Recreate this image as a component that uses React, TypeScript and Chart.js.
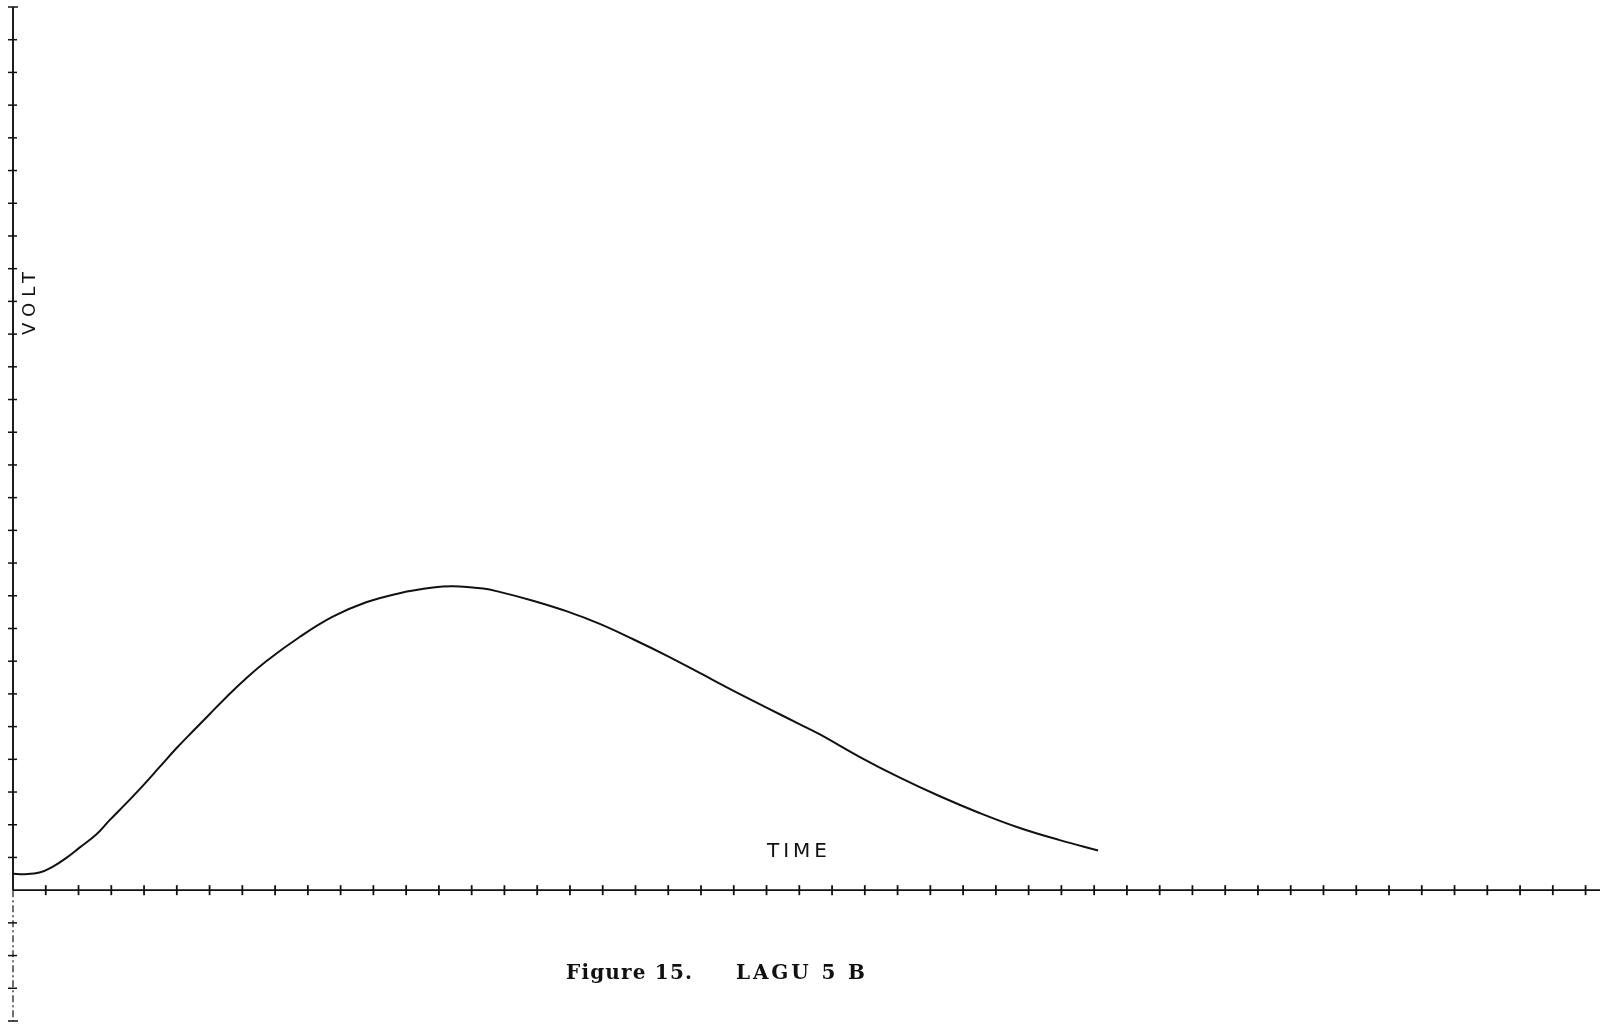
import React, { useEffect, useRef } from "react";
import { Chart, registerables } from "chart.js";

Chart.register(...registerables);

// Curve (x in TIME tick units, y in VOLT tick units)
const timeValues = [
  0, 0.35, 0.81, 1.22, 1.62, 2.03, 2.54, 2.95, 3.46, 3.96, 4.47, 4.98, 5.49, 6.0,
  6.51, 7.02, 7.73, 8.75, 9.76, 10.78, 11.8, 12.82, 13.43, 14.35, 14.85, 15.87,
  16.89, 17.91, 18.93, 19.95, 20.96, 21.98, 23.0, 24.02, 24.63, 25.85, 27.07,
  28.29, 29.5, 30.73, 31.95, 33.12,
];
const voltValues = [
  0.5, 0.49, 0.54, 0.72, 0.98, 1.3, 1.7, 2.14, 2.66, 3.19, 3.76, 4.33, 4.86,
  5.38, 5.9, 6.39, 7.0, 7.74, 8.36, 8.8, 9.08, 9.25, 9.29, 9.22, 9.12, 8.85, 8.53,
  8.14, 7.67, 7.17, 6.64, 6.1, 5.58, 5.07, 4.76, 4.07, 3.44, 2.87, 2.36, 1.9,
  1.53, 1.21,
];

// Axis tick positions (no numeric labels on the original)
const xTickValues = Array.from({ length: 49 }, (_, i) => i); // 0..48
const yTickValues = Array.from({ length: 32 }, (_, i) => i - 4); // -4..27

const xAxisLabel = "TIME";
const yAxisLabel = "VOLT";
const captionLeft = "Figure 15.";
const captionRight = "LAGU 5 B";

const X_MIN = 0;
const X_MAX = 48.44;
const Y_MIN = -4;
const Y_MAX = 27;

function drawFitted(
  ctx: CanvasRenderingContext2D,
  text: string,
  x: number,
  y: number,
  width: number
) {
  (ctx as any).letterSpacing = "0px";
  const w = ctx.measureText(text).width;
  const ls = text.length > 1 ? (width - w) / (text.length - 1) : 0;
  (ctx as any).letterSpacing = `${ls}px`;
  ctx.textAlign = "left";
  ctx.fillText(text, x, y);
  (ctx as any).letterSpacing = "0px";
}

const plotterAxes = {
  id: "plotterAxes",
  beforeDatasetsDraw(chart: any) {
    const ctx: CanvasRenderingContext2D = chart.ctx;
    const xs = chart.scales.x;
    const ys = chart.scales.y;
    const x0 = xs.getPixelForValue(0);
    const y0 = ys.getPixelForValue(0);
    const xEnd = xs.getPixelForValue(X_MAX);
    const yTop = ys.getPixelForValue(yTickValues[yTickValues.length - 1]);
    const yBot = ys.getPixelForValue(yTickValues[0]);
    ctx.save();
    ctx.strokeStyle = "#111";
    ctx.lineCap = "butt";

    // x axis
    ctx.lineWidth = 1.6;
    ctx.beginPath();
    ctx.moveTo(x0, y0);
    ctx.lineTo(xEnd, y0);
    ctx.stroke();

    // y axis (solid above the origin)
    ctx.lineWidth = 1.9;
    ctx.beginPath();
    ctx.moveTo(x0, yTop);
    ctx.lineTo(x0, y0);
    ctx.stroke();

    // y axis below origin (broken, as on the original)
    ctx.lineWidth = 1.2;
    ctx.setLineDash([7, 3, 2, 3]);
    ctx.beginPath();
    ctx.moveTo(x0, y0);
    ctx.lineTo(x0, yBot);
    ctx.stroke();
    ctx.setLineDash([]);

    // x ticks
    ctx.lineWidth = 1.8;
    xTickValues.forEach((v) => {
      if (v === 0) return;
      const px = xs.getPixelForValue(v);
      ctx.beginPath();
      ctx.moveTo(px, y0 - 5);
      ctx.lineTo(px, y0 + 5);
      ctx.stroke();
    });

    // y ticks
    ctx.lineWidth = 1.5;
    yTickValues.forEach((v) => {
      if (v === 0) return;
      const py = ys.getPixelForValue(v);
      const isEnd = v === yTickValues[0] || v === yTickValues[yTickValues.length - 1];
      ctx.beginPath();
      ctx.moveTo(x0 - 5, py);
      ctx.lineTo(x0 + (isEnd ? 5 : 4), py);
      ctx.stroke();
    });
    ctx.restore();
  },
  afterDraw(chart: any) {
    const ctx: CanvasRenderingContext2D = chart.ctx;
    ctx.save();
    ctx.fillStyle = "#111";
    ctx.textBaseline = "alphabetic";

    // VOLT (rotated, reading bottom-to-top)
    ctx.font = '18px "DejaVu Sans"';
    ctx.save();
    ctx.translate(35, 335);
    ctx.rotate(-Math.PI / 2);
    drawFitted(ctx, yAxisLabel, 0, 0, 63);
    ctx.restore();

    // TIME
    ctx.font = '20px "DejaVu Sans"';
    drawFitted(ctx, xAxisLabel, 767, 857, 60);

    // Caption
    ctx.font = 'bold 20px "DejaVu Serif"';
    drawFitted(ctx, captionLeft, 566, 979, 126);
    drawFitted(ctx, captionRight, 736, 979, 129);
    ctx.restore();
  },
};

export default function App() {
  const canvasRef = useRef<HTMLCanvasElement | null>(null);

  useEffect(() => {
    const canvas = canvasRef.current;
    if (!canvas) return;
    const points = timeValues.map((t, i) => ({ x: t, y: voltValues[i] }));
    const chart = new Chart(canvas, {
      type: "line",
      data: {
        datasets: [
          {
            data: points,
            borderColor: "#111",
            borderWidth: 2,
            pointRadius: 0,
            fill: false,
            tension: 0.4,
          },
        ],
      },
      options: {
        animation: false,
        responsive: false,
        devicePixelRatio: 1,
        layout: { padding: { left: 13, top: 7, right: 2, bottom: 4 } },
        plugins: {
          legend: { display: false },
          tooltip: { enabled: false },
          title: { display: false },
        },
        scales: {
          x: { type: "linear", min: X_MIN, max: X_MAX, display: false },
          y: { type: "linear", min: Y_MIN, max: Y_MAX, display: false },
        },
      },
      plugins: [plotterAxes],
    } as any);
    return () => chart.destroy();
  }, []);

  return (
    <div
      style={{
        position: "fixed",
        left: 0,
        top: 0,
        width: 1602,
        height: 1025,
        background: "#fff",
      }}
    >
      <canvas
        ref={canvasRef}
        width={1602}
        height={1025}
        style={{ display: "block", width: 1602, height: 1025 }}
      />
    </div>
  );
}
